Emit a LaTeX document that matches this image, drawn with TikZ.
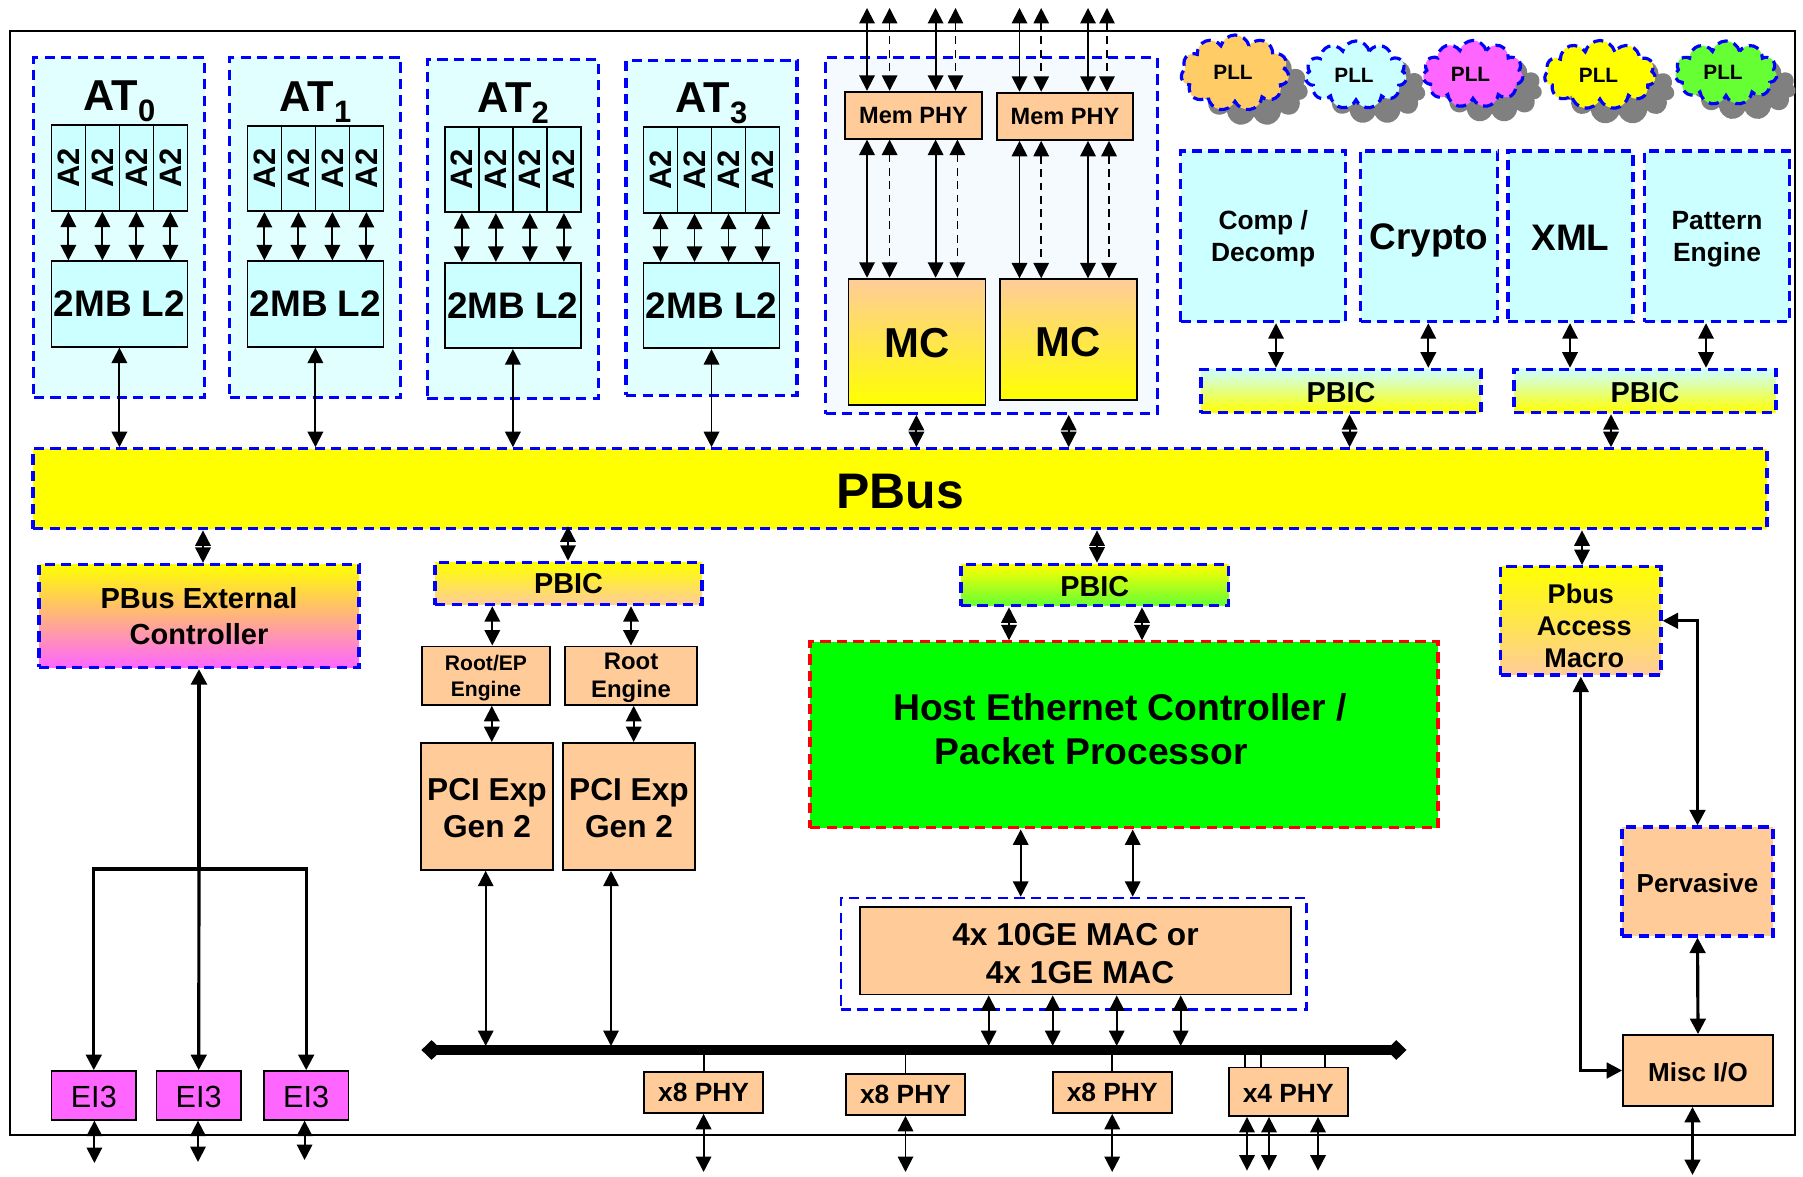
\documentclass[tikz,border=0pt]{standalone}
\usepackage{fontspec}
\setmainfont{Liberation Sans}
\usepackage{xcolor}
\usetikzlibrary{arrows.meta,shapes.symbols,shadows}
\definecolor{peach}{HTML}{FFCC99}
\definecolor{cyanlt}{HTML}{CCFFFF}
\definecolor{atfill}{HTML}{E2FFFF}
\definecolor{memfill}{HTML}{F5FAFF}
\definecolor{pink}{HTML}{FF66FF}
\definecolor{amber}{HTML}{FFCC66}
\definecolor{lime}{HTML}{66FF33}
\definecolor{ylw}{HTML}{FFFF00}
\tikzset{every node/.append style={inner sep=0pt, align=center}}
\tikzset{
    sz/.style 2 args={minimum width=#1*0.01cm, minimum height=#2*0.01cm},
    fnt/.style 2 args={font=\bfseries\fontsize{#1}{#2}\selectfont, text depth=0pt},
    drop/.style={execute at begin node={\rule{0pt}{#1}}},
    dashbox/.style={draw=blue, line width=0.9pt, dash pattern=on 2.9pt off 1.8pt},
    redbox/.style={draw=red, line width=0.9pt, dash pattern=on 2.9pt off 1.8pt},
    solidbox/.style={draw=black, line width=0.5pt},
    peachbox/.style={solidbox, fill=peach},
    cyanbox/.style={solidbox, fill=cyanlt},
    pbic/.style={dashbox, fnt={8.2}{9}},
    pll/.style={cloud, cloud puffs=11, cloud ignores aspect, dashbox, fnt={5.9}{6},
        drop shadow={shadow xshift=5.4pt, shadow yshift=-4.3pt, fill=black!50, opacity=1}},
    dbl/.style={<->, line width=0.55pt},
    dbldash/.style={dbl, dash pattern=on 2.2pt off 1.6pt, line width=0.45pt},
    dblthick/.style={<->, line width=0.9pt},
}

\begin{document}
\begin{tikzpicture}[x=0.01cm, y=-0.01cm, >={Triangle[length=4.4pt, width=4.4pt]}]
    \useasboundingbox (0,0) rectangle (1803,1177);
    \node[draw=black, line width=0.6pt, sz={1785}{1104}, anchor=north west] (chip) at (8.7,30.3) {};

    \node[dashbox, fill=ylw, sz={1734}{80}, fnt={14.2}{15}, drop=11pt] (pbus) at (900,488.8) {PBus};

    % A2 cores
    \foreach \k/\cx/\ay/\by/\oy/\oh in {0/119.4/168/304/227.7/340, 1/315.4/168.4/304/227.5/340, 2/512.9/169.5/305.5/229/339.4, 3/711.5/170/305.5/228/335} {
        \node[dashbox, fill=atfill, sz={171}{\oh}] (at\k) at (\cx,\oy) {};
        \node[fnt={12.3}{12}, anchor=base] (title\k) at (\cx,\ay-57) {AT\raisebox{-3.1pt}{\fontsize{8.8}{9}\selectfont\k}};
        \node[cyanbox, sz={136}{85.5}] (a2\k) at (\cx,\ay) {};
        \node[cyanbox, sz={136}{85.5}, fnt={10.5}{11}] (l2\k) at (\cx,\by) {2MB L2};
        \foreach \j/\dx in {1/-51,2/-17,3/17,4/51} {
            \node[solidbox, sz={34}{85.5}, fnt={8.8}{9}] (core\k\j) at (\cx+\dx,\ay) {\rotatebox{90}{A2}};
            \draw[dbl] (core\k\j.south) -- (core\k\j.south |- l2\k.north);
        }
        \draw[dbl] (l2\k.south) -- (l2\k.south |- pbus.north);
    }

    % memory
    \node[dashbox, fill=memfill, sz={332}{356}, line width=0.7pt] (mem) at (991.6,235.7) {};
    \node[peachbox, sz={136.3}{47}, fnt={6.7}{7}] (phya) at (913.5,115.2) {Mem PHY};
    \node[peachbox, sz={136.3}{47.3}, fnt={6.7}{7}] (phyb) at (1065,116.3) {Mem PHY};
    \node[solidbox, top color=peach, bottom color=ylw, sz={137}{126.3}, fnt={11.9}{12}, drop=8.9pt] (mca) at (917,341.8) {MC};
    \node[solidbox, top color=peach, bottom color=ylw, sz={137}{120.7}, fnt={11.9}{12}, drop=9.4pt] (mcb) at (1068.5,339.6) {MC};
    \foreach \i/\xt/\xb/\ph/\mc/\sty in {1/867/867/phya/mca/dbl, 2/889.6/889.6/phya/mca/dbldash, 3/935.6/935.6/phya/mca/dbl, 4/955.5/957.4/phya/mca/dbldash, 5/1019.5/1019.5/phyb/mcb/dbl, 6/1041.2/1041.2/phyb/mcb/dbldash, 7/1088/1088/phyb/mcb/dbl, 8/1107/1109/phyb/mcb/dbldash} {
        \coordinate (pin\i) at (\xt,8);
        \draw[\sty] (pin\i) -- (pin\i |- \ph.north);
        \draw[\sty] (\xb,0 |- \ph.south) -- (\xb,0 |- \mc.north);
    }
    \draw[dbl] (916.4,0 |- mem.south) -- (916.4,0 |- pbus.north);
    \draw[dbl] (1068.7,0 |- mem.south) -- (1068.7,0 |- pbus.north);

    % clocks
    \foreach \n/\cx/\cy/\w/\h/\col/\tx/\ty in {a/1235/73/108/76/amber/1233/72.7, b/1356/75/101/68/cyanlt/1354/75, c/1473/74/100/67/pink/1470.5/74, d/1600/75/111/69/ylw/1598.5/75, e/1726/73/102/64/lime/1723/72.7} {
        \node[pll, fill=\col, sz={\w}{\h}] (pll\n) at (\cx,\cy) {};
        \node[fnt={5.9}{6}] (pllt\n) at (\tx,\ty) {PLL};
    }

    % accelerators
    \node[dashbox, fill=cyanlt, sz={165}{170.7}, fnt={7.5}{9.1}] (comp) at (1263.2,236.3) {Comp /\\Decomp};
    \node[dashbox, fill=cyanlt, sz={137}{170.7}, fnt={10.5}{11}] (crypto) at (1429,236.3) {Crypto};
    \node[dashbox, fill=cyanlt, sz={125}{170.7}, fnt={10.5}{11}, drop=8.3pt] (xml) at (1570.5,236.3) {XML};
    \node[dashbox, fill=cyanlt, sz={145}{170.7}, fnt={7.5}{9.1}] (pattern) at (1717,236.3) {Pattern\\Engine};
    \node[pbic, top color=cyanlt, bottom color=ylw, sz={280}{43.4}, drop=6.64pt] (pbica) at (1341,391) {PBIC};
    \node[pbic, top color=cyanlt, bottom color=ylw, sz={262}{43.4}, drop=6.64pt] (pbicb) at (1645,391) {PBIC};
    \draw[dbl] (1276,0 |- comp.south) -- (1276,0 |- pbica.north);
    \draw[dbl] (1428.3,0 |- crypto.south) -- (1428.3,0 |- pbica.north);
    \draw[dbl] (1570,0 |- xml.south) -- (1570,0 |- pbicb.north);
    \draw[dbl] (1706,0 |- pattern.south) -- (1706,0 |- pbicb.north);
    \draw[dbl] (1349.6,0 |- pbica.south) -- (1349.6,0 |- pbus.north);
    \draw[dbl] (1611,0 |- pbicb.south) -- (1611,0 |- pbus.north);

    % external bus
    \node[dashbox, top color=ylw, bottom color=pink, sz={320}{103}, fnt={8.25}{10.1}] (pbx) at (199,616) {PBus External\\Controller};
    \draw[dbl] (203,0 |- pbus.south) -- (203,0 |- pbx.north);
    \foreach \i/\cx/\ox/\oy in {1/93.8/94.4/1163, 2/198.7/198/1162, 3/306.2/304.6/1160} {
        \node[solidbox, fill=pink, sz={84.5}{48.7}, font=\fontsize{8.7}{9}\selectfont, drop=7pt] (ei\i) at (\cx,1095.4) {EI3};
        \coordinate (eiout\i) at (\ox,\oy);
        \draw[dbl] (eiout\i |- ei\i.south) -- (eiout\i);
    }
    \coordinate (eij) at (199,869);
    \draw[dblthick] (ei1.north) |- (eij) -| (ei3.north);
    \draw[->, line width=0.9pt] (eij) -- (ei2.north);
    \draw[->, line width=1.2pt] (eij) -- (pbx.south);

    % PCI express
    \coordinate (busl) at (421.4,1050);
    \coordinate (busr) at (1406.5,1050);
    \coordinate (bust) at (421.4,1046);
    \draw[{Diamond[length=5.8pt, width=5.6pt]}-{Diamond[length=5.8pt, width=5.6pt]}, line width=2.6pt] (busl) -- (busr);
    \node[pbic, top color=ylw, bottom color=peach, sz={267}{42.3}] (pbicl) at (568.5,583.5) {PBIC};
    \node[peachbox, sz={128.5}{58.5}, fnt={6}{7.4}] (roota) at (486,675.7) {Root/EP\\Engine};
    \node[peachbox, sz={132.5}{58.5}, fnt={6.8}{8}] (rootb) at (631,675.7) {Root\\Engine};
    \node[peachbox, sz={132}{127}, fnt={9}{10.7}, drop=17.9pt] (pcia) at (487,806.4) {PCI Exp\\Gen 2};
    \node[peachbox, sz={132}{127}, fnt={9}{10.7}, drop=17.9pt] (pcib) at (629,806.4) {PCI Exp\\Gen 2};
    \draw[dbl] (568,0 |- pbus.south) ++(0,-4) -- (568,0 |- pbicl.north);
    \draw[dbl] (492.3,0 |- pbicl.south) -- (492.3,0 |- roota.north);
    \draw[dbl] (631,0 |- pbicl.south) -- (631,0 |- rootb.north);
    \draw[dbl] (491.8,0 |- roota.south) -- (491.8,0 |- pcia.north);
    \draw[dbl] (633.7,0 |- rootb.south) -- (633.7,0 |- pcib.north);
    \draw[dbl] (485.7,0 |- pcia.south) -- (485.7,0 |- bust);
    \draw[dbl] (611,0 |- pcib.south) -- (611,0 |- bust);

    % ethernet
    \node[pbic, top color=ylw, bottom color=lime, sz={267.7}{41.5}, drop=6.64pt] (pbicg) at (1094.8,585) {PBIC};
    \node[redbox, fill=green, sz={628}{186}] (host) at (1124,734.9) {};
    \node[fnt={10.6}{12.4}, align=left] (hostlbl) at (1120,729) {Host Ethernet Controller /\\\hspace*{11.8pt}Packet Processor};
    \node[dashbox, sz={465.7}{111.6}, line width=0.7pt] (macout) at (1073.8,953.8) {};
    \node[peachbox, sz={431}{87.5}, fnt={9}{10.8}, drop=18.4pt] (mac) at (1075.5,950.8) {4x 10GE MAC or\\\hspace*{2.6pt}4x 1GE MAC};
    \draw[dbl] (1097,0 |- pbus.south) -- (1097,0 |- pbicg.north);
    \draw[dbl] (1009,0 |- pbicg.south) -- (1009,0 |- host.north);
    \draw[dbl] (1142,0 |- pbicg.south) -- (1142,0 |- host.north);
    \draw[dbl] (1020.7,0 |- host.south) -- (1020.7,0 |- macout.north);
    \draw[dbl] (1132.7,0 |- host.south) -- (1132.7,0 |- macout.north);
    \foreach \x in {988.7,1052.7,1116.7,1180.7} {
        \draw[dbl] (\x,0 |- mac.south) -- (\x,0 |- bust);
    }

    % PHYs
    \foreach \n/\cx/\cy/\h/\lab in {a/703.6/1092.4/41.2/x8 PHY, b/905.5/1094.5/41/x8 PHY, c/1112.2/1092.4/41.2/x8 PHY} {
        \node[peachbox, sz={119}{\h}, fnt={7.5}{8}] (phy\n) at (\cx,\cy) {\lab};
        \draw[line width=0.55pt] (phy\n.north) -- (phy\n.north |- busl);
        \coordinate (phyout\n) at (\cx,1172);
        \draw[dbl] (phy\n.south) -- (phyout\n);
    }
    \node[peachbox, sz={119}{48.5}, fnt={7.5}{8}, drop=6.1pt] (phyd) at (1288.2,1091.8) {x4 PHY};
    \foreach \x in {1244.7,1260.7,1324.6} {
        \draw[line width=0.55pt] (\x,0 |- phyd.north) -- (\x,0 |- busl);
    }
    \foreach \i/\x in {1/1247,2/1269,3/1318} {
        \coordinate (phyout\i) at (\x,1170.6);
        \draw[dbl] (phyout\i |- phyd.south) -- (phyout\i);
    }

    % service blocks
    \node[dashbox, top color=ylw, bottom color=peach, sz={160.4}{108.4}, fnt={7.7}{9.1}, drop=26.4pt] (pam) at (1580.8,620.8) {Pbus\\\hspace*{2pt}Access\\\hspace*{2pt}Macro};
    \node[dashbox, fill=peach, sz={151}{109}, fnt={7.4}{8}, drop=6.06pt] (perv) at (1697.5,881.5) {Pervasive};
    \node[peachbox, sz={150}{71}, fnt={7.4}{8}, drop=6.06pt] (misc) at (1698,1070.5) {Misc I/O};
    \draw[dbl] (1582,0 |- pbus.south) -- (1582,0 |- pam.north);
    \draw[dblthick] (pam.east) -| (perv.north);
    \draw[dblthick] (pam.south) |- (misc.west);
    \draw[dblthick] (perv.south) -- (misc.north);
    \coordinate (miscout) at (1692.5,1175);
    \draw[dblthick] (miscout |- misc.south) -- (miscout);
\end{tikzpicture}
\end{document}
